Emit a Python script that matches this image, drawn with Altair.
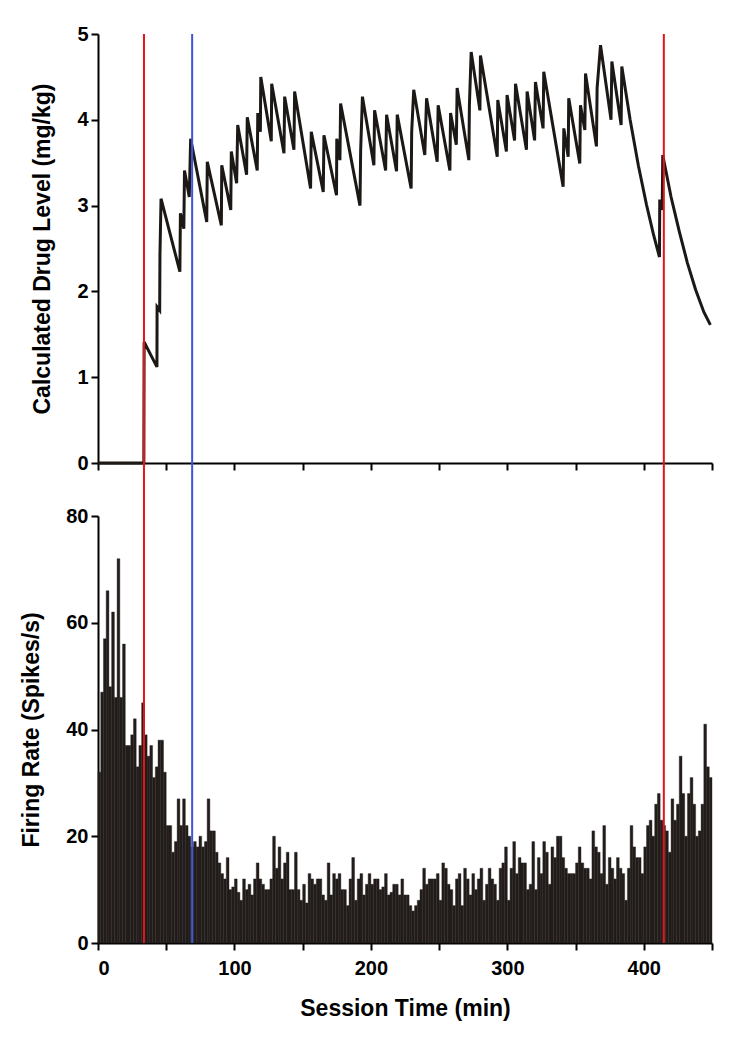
import altair as alt
import pandas as pd

# ---------------- data ----------------
drug_time = [
    0, 33.6, 33.8, 43.2, 43.3, 45.2, 45.4, 46.2, 60.0, 60.4, 62.9, 63.4, 66.9, 67.9,
    79.7, 80.1, 90.4, 90.7, 97.3, 97.7, 101.6, 102.4, 108.9, 109.4, 116.7, 117.1,
    119.0, 119.3, 127.0, 127.3, 136.3, 136.8, 143.6, 144.1, 155.8, 156.3, 165.1, 165.6,
    174.8, 175.0, 177.3, 177.8, 192.0, 192.5, 193.8, 202.2, 202.7, 210.8, 211.5,
    218.8, 219.3, 229.5, 229.9, 231.4, 239.5, 240.8, 248.6, 249.3, 257.9, 258.4,
    262.6, 263.2, 271.8, 272.2, 273.5, 279.9, 280.3, 292.6, 293.0, 299.3, 299.8,
    305.3, 306.0, 314.0, 314.5, 320.0, 320.6, 326.2, 326.7, 340.9, 341.4, 344.6,
    345.0, 353.1, 353.6, 356.8, 357.3, 365.3, 365.8, 368.3, 376.0, 376.6, 383.4,
    383.9, 390.0, 396.0, 402.0, 407.0, 411.5, 411.7, 413.5, 413.9, 420.0, 426.0,
    432.0, 438.0, 444.0, 448.8,
]
drug_level = [
    0, 0, 1.41, 1.12, 1.82, 1.78, 2.42, 3.08, 2.23, 2.91, 2.73, 3.41, 3.10, 3.78,
    2.81, 3.51, 2.77, 3.47, 2.95, 3.63, 3.26, 3.94, 3.36, 4.03, 3.41, 4.08,
    3.86, 4.50, 3.75, 4.42, 3.61, 4.27, 3.65, 4.33, 3.20, 3.86, 3.16, 3.82,
    3.12, 3.78, 3.53, 4.19, 3.00, 3.64, 4.27, 3.47, 4.11, 3.41, 4.06,
    3.40, 4.06, 3.20, 3.86, 4.35, 3.59, 4.25, 3.51, 4.17, 3.41, 4.08,
    3.71, 4.37, 3.53, 4.17, 4.79, 4.11, 4.75, 3.57, 4.23, 3.63, 4.29,
    3.76, 4.42, 3.65, 4.33, 3.76, 4.44, 3.90, 4.56, 3.22, 3.90, 3.57,
    4.25, 3.49, 4.17, 3.88, 4.54, 3.69, 4.37, 4.87, 4.00, 4.68, 3.94,
    4.62, 4.00, 3.47, 3.01, 2.67, 2.40, 3.07, 2.95, 3.59, 3.10, 2.70,
    2.33, 2.02, 1.76, 1.61,
]

bin_width = 2  # minutes per histogram bin
firing_rate = [
    32, 47, 57, 66, 48, 62, 46, 72, 46, 56,
    37, 37, 39, 42, 33, 37, 45, 39, 35, 37,
    31, 33, 38, 38, 32, 22, 22, 17, 19, 27,
    22, 27, 22, 20, 18, 19, 18, 20, 18, 19,
    27, 21, 21, 17, 15, 13, 12, 16, 10, 10.5,
    12, 9.5, 8, 12, 10, 11,
    9, 12, 15, 12, 11, 10, 10, 12, 20, 14,
    18, 12, 15, 17, 10, 10, 17, 10, 8, 11,
    7.5, 13, 12, 11, 12, 12, 9, 8, 15, 9,
    13, 12, 13, 10, 10, 7, 12, 16, 8, 12,
    13, 9, 11, 13, 11, 12, 12, 10, 10.5, 13,
    9, 9.5, 11, 11, 9, 12,
    9, 9, 7, 6, 7, 8, 10, 14, 11, 12,
    12, 12, 13, 8, 15, 14, 11, 10, 7, 12,
    13, 7, 14, 12, 9, 13, 10, 12, 14, 8,
    11, 14, 12, 11, 8, 14, 15, 18, 8, 14,
    19, 13, 16, 15, 15, 10, 11, 19, 10, 16,
    13, 19, 17, 11, 18, 16,
    20, 20, 16, 14, 13, 13, 13, 15, 18, 15,
    14, 14, 12, 21, 18, 17, 13, 22, 11, 16,
    14, 12, 16, 14, 13, 8, 14, 22, 18, 16,
    16, 13, 18, 22, 23, 20, 26, 28, 23, 22,
    21, 17, 27, 23, 26, 35, 28, 20, 28, 31,
    26, 20, 21, 26, 41, 33, 31,
]

marker_time = [33.7, 414.7, 69.0]
marker_kind = ["red", "red", "blue"]

x_ticks = [0, 50, 100, 150, 200, 250, 300, 350, 400, 450]
drug_ticks = [0, 1, 2, 3, 4, 5]
rate_ticks = [0, 20, 40, 60, 80]

# ---------------- tables ----------------
drug_df = pd.DataFrame({"t": drug_time, "v": drug_level, "i": list(range(len(drug_time)))})
rate_df = pd.DataFrame({"t0": [k * bin_width for k in range(len(firing_rate))], "rate": firing_rate})
rate_df["t1"] = rate_df["t0"] + bin_width
mark_df = pd.DataFrame({"t": marker_time, "kind": marker_kind})

W, H1, H2 = 614, 429, 427
PLOT_GAP = 53
FONT = "Liberation Sans"

ax = dict(
    domainColor="black", domainWidth=2, tickColor="black", tickWidth=2, tickSize=7,
    labelFont=FONT, labelFontSize=20, labelFontWeight="bold", labelColor="black",
    titleFont=FONT, titleFontSize=23, titleFontWeight="bold", titleColor="black",
    grid=False,
)
xscale = alt.Scale(domain=[0, 450], nice=False, zero=False)
color_scale = alt.Scale(domain=["red", "blue"], range=["#e3141c", "#3f55d6"])

top_line = alt.Chart(drug_df).mark_line(color="#1c1815", strokeWidth=3).encode(
    x=alt.X("t:Q", scale=xscale, axis=alt.Axis(values=x_ticks, labels=False, title=None, **ax)),
    y=alt.Y("v:Q", scale=alt.Scale(domain=[0, 5], nice=False),
            axis=alt.Axis(values=drug_ticks, title="Calculated Drug Level (mg/kg)",
                          labelPadding=3, titlePadding=22, **ax)),
    order="i:Q",
)
top_rules = alt.Chart(mark_df).mark_rule(strokeWidth=2).encode(
    x="t:Q",
    y=alt.value(0),
    y2=alt.value(H1 + PLOT_GAP),
    color=alt.Color("kind:N", scale=color_scale, legend=None),
)
top = alt.layer(top_line, top_rules).properties(width=W, height=H1)

bars = alt.Chart(rate_df).mark_rect(color="#221d1a", stroke="#221d1a", strokeWidth=0.4).encode(
    x=alt.X("t0:Q", scale=xscale,
            axis=alt.Axis(values=x_ticks, labelExpr="datum.value % 100 === 0 ? datum.label : ''",
                          title="Session Time (min)", labelPadding=8, titlePadding=19, **ax)),
    x2="t1:Q",
    y=alt.Y("rate:Q", scale=alt.Scale(domain=[0, 80], nice=False),
            axis=alt.Axis(values=rate_ticks, title="Firing Rate (Spikes/s)",
                          labelPadding=3, titlePadding=22, **ax)),
    y2=alt.datum(0),
)
bot_rules = alt.Chart(mark_df).mark_rule(strokeWidth=2).encode(
    x="t:Q",
    y=alt.value(0),
    y2=alt.value(H2),
    color=alt.Color("kind:N", scale=color_scale, legend=None),
)
bottom = alt.layer(bars, bot_rules).properties(width=W, height=H2)

chart = alt.vconcat(top, bottom, spacing=PLOT_GAP, bounds="flush").properties(
    padding={"left": 12, "top": 16, "right": 5, "bottom": 5},
    background="white",
).configure_view(stroke="transparent", strokeWidth=0)

chart.save("out.html", embed_options={"renderer": "svg", "actions": False})
